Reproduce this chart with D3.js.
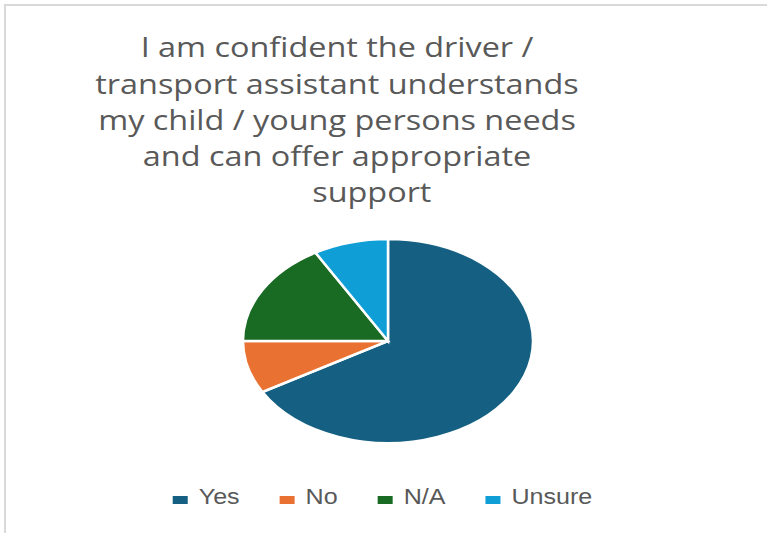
<!DOCTYPE html>
<html>
<head>
<meta charset="utf-8">
<script src="https://cdn.jsdelivr.net/npm/d3@7"></script>
<style>
  html, body { margin: 0; padding: 0; background: #fff; }
  svg { display: block; }
</style>
</head>
<body>
<svg id="chart" width="767" height="533"></svg>
<script>
// survey answers, counts
let categories = ['Yes', 'No', 'N/A', 'Unsure'];
let counts = [8, 1, 2, 1];
let colours = ['#156082', '#E97132', '#196B24', '#0F9ED5'];
let title_lines = [
    'I am confident the driver /',
    'transport assistant understands',
    'my child / young persons needs',
    'and can offer appropriate',
    'support'
];

function make_pie(){
    let WIDTH = 767;
    let HEIGHT = 533;
    let svg = d3.select('#chart');

    // chart frame, only top and left edge are in the picture
    svg.append('rect')
        .attr('x', 5)
        .attr('y', 5)
        .attr('width', WIDTH + 20)
        .attr('height', HEIGHT + 20)
        .attr('fill', 'white')
        .attr('stroke', '#d9d9d9')
        .attr('stroke-width', 2);

    // Title, wrapped the way the original wraps it
    let title = svg.append('g')
        .attr('transform', 'translate(337,0) scale(1.2,1)');
    title.selectAll('text')
        .data(title_lines)
        .join('text')
        .text(d => d)
        .attr('x', (d, i) => i == title_lines.length - 1 ? 29 : 0)
        .attr('y', (d, i) => 57.5 + i * 36.2)
        .attr('text-anchor', 'middle')
        .attr('font-family', '"Open Sans", sans-serif')
        .attr('font-size', '27px')
        .attr('fill', '#595959');

    // pie, drawn on a unit circle and stretched to an ellipse
    let CX = 388, CY = 341, RX = 145, RY = 102;
    let pie = d3.pie().sort(null).value(d => d.value);
    let arc = d3.arc().innerRadius(0).outerRadius(1);
    let slices = pie(categories.map((c, i) => ({name: c, value: counts[i]})));

    svg.append('g')
        .attr('transform', `translate(${CX},${CY}) scale(${RX},${RY})`)
        .selectAll('path')
        .data(slices)
        .join('path')
        .attr('d', arc)
        .attr('fill', (d, i) => colours[i])
        .attr('stroke', 'white')
        .attr('stroke-width', 2.5)
        .attr('vector-effect', 'non-scaling-stroke');

    // Legend, centred under the chart
    let TEXT_SX = 1.14;
    let legend = svg.append('g');
    let items = legend.selectAll('g')
        .data(categories)
        .join('g');
    items.append('rect')
        .attr('width', 15)
        .attr('height', 8)
        .attr('y', -8)
        .attr('fill', (d, i) => colours[i]);
    items.append('text')
        .text(d => d)
        .attr('transform', `translate(26,0) scale(${TEXT_SX},1)`)
        .attr('font-family', '"Liberation Sans", Arial, sans-serif')
        .attr('font-size', '22px')
        .attr('fill', '#595959');

    let x = 0;
    items.each(function(){
        let w = d3.select(this).select('text').node().getComputedTextLength() * TEXT_SX;
        d3.select(this).attr('transform', `translate(${x},0)`);
        x += 26 + w + 40;
    });
    let total = x - 40;
    legend.attr('transform', `translate(${382.5 - total / 2},504)`);
}

make_pie();
</script>
</body>
</html>
